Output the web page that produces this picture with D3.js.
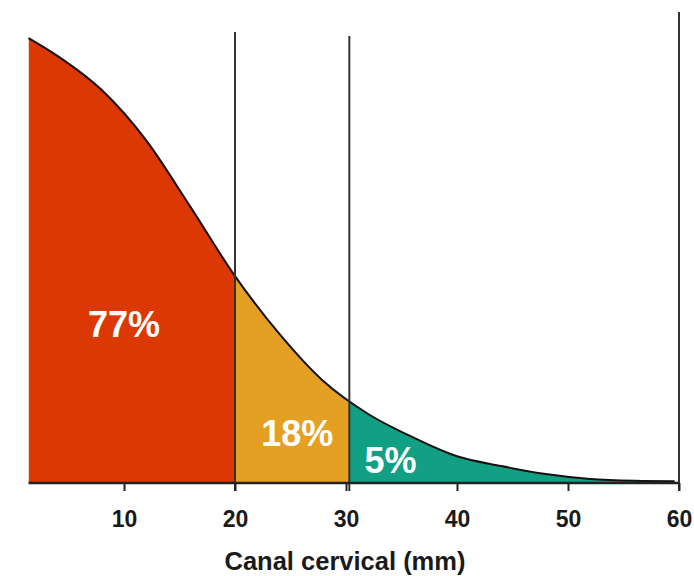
<!DOCTYPE html>
<html>
<head>
<meta charset="utf-8">
<script src="https://cdn.jsdelivr.net/npm/d3@7"></script>
<style>
  body { margin: 0; background: #fff; }
  svg { display: block; }
</style>
</head>
<body>
<div class="chart"></div>
<script>
// curve: canal length (mm) and relative height
var lengths = [1.4, 4, 8, 12, 16, 20, 24, 28, 32, 36, 40, 44, 48, 52, 56, 59.6];
var heights = [100, 96, 88.3, 77, 62, 46.5, 33.5, 22.8, 15.5, 10.3, 6.0, 3.8, 2.0, 0.9, 0.5, 0.4];

var cuts = [1.4, 20, 30.3, 59.6];
var shares = ['77%', '18%', '5%'];
var colors = ['#dc3804', '#e3a022', '#11a084'];
var xTicks = [10, 20, 30, 40, 50, 60];
var title = 'Canal cervical (mm)';

var width = 694, height = 576;
var x = d3.scaleLinear().domain([0, 60]).range([13, 679]);
var y = d3.scaleLinear().domain([0, 100]).range([483, 38]);

var svg = d3.select('.chart').append('svg').attr('width', width).attr('height', height);

var pts = lengths.map(function(d, i) { return [d, heights[i]]; });
var line = d3.line().x(function(d) { return x(d[0]); }).y(function(d) { return y(d[1]); }).curve(d3.curveMonotoneX);
var area = d3.area().x(function(d) { return x(d[0]); }).y0(y(0)).y1(function(d) { return y(d[1]); }).curve(d3.curveMonotoneX);

// clip each band out of the full area
shares.forEach(function(s, i) {
	svg.append('clipPath').attr('id', 'band' + i)
		.append('rect')
		.attr('x', x(cuts[i])).attr('width', x(cuts[i + 1]) - x(cuts[i]))
		.attr('y', 0).attr('height', y(0));
	svg.append('path').datum(pts)
		.attr('d', area)
		.attr('clip-path', 'url(#band' + i + ')')
		.style('fill', colors[i]);
});

svg.append('path').datum(pts)
	.attr('d', line)
	.style('fill', 'none').style('stroke', '#111').style('stroke-width', 2);

// vertical separators
var seps = [[20, 32], [30.3, 36], [60, 12]];
svg.selectAll('.sep').data(seps).enter().append('line')
	.attr('x1', function(d) { return x(d[0]); }).attr('x2', function(d) { return x(d[0]); })
	.attr('y1', function(d) { return d[1]; }).attr('y2', y(0) + 8)
	.style('stroke', '#333').style('stroke-width', 2);

// axis
var axis = svg.append('g').attr('transform', 'translate(0,' + y(0) + ')')
	.call(d3.axisBottom(x).tickValues(xTicks).tickSize(8).tickPadding(20));
axis.select('.domain').attr('d', 'M' + x(1.4) + ',0H' + x(60)).style('stroke', '#222').style('stroke-width', 2.5);
axis.selectAll('.tick line').style('stroke', '#222').style('stroke-width', 2);
axis.selectAll('.tick text')
	.style('font-family', '"Liberation Sans", Arial, sans-serif')
	.style('font-weight', 'bold').style('font-size', '23px').style('fill', '#1a1a1a');

svg.append('text').attr('x', 345).attr('y', 570)
	.attr('text-anchor', 'middle')
	.style('font-family', '"Liberation Sans", Arial, sans-serif')
	.style('font-weight', 'bold').style('font-size', '25.5px').style('fill', '#1a1a1a')
	.text(title);

// percentage labels: centre (mm) and baseline height
var labelPos = [[10, 32.8], [25.6, 8.3], [34, 2.2]];
svg.selectAll('.pct').data(shares).enter().append('text')
	.attr('x', function(d, i) { return x(labelPos[i][0]); })
	.attr('y', function(d, i) { return y(labelPos[i][1]); })
	.attr('text-anchor', 'middle')
	.style('font-family', '"Liberation Sans", Arial, sans-serif')
	.style('font-weight', 'bold').style('font-size', '36px').style('fill', '#fff')
	.text(function(d) { return d; });
</script>
</body>
</html>
